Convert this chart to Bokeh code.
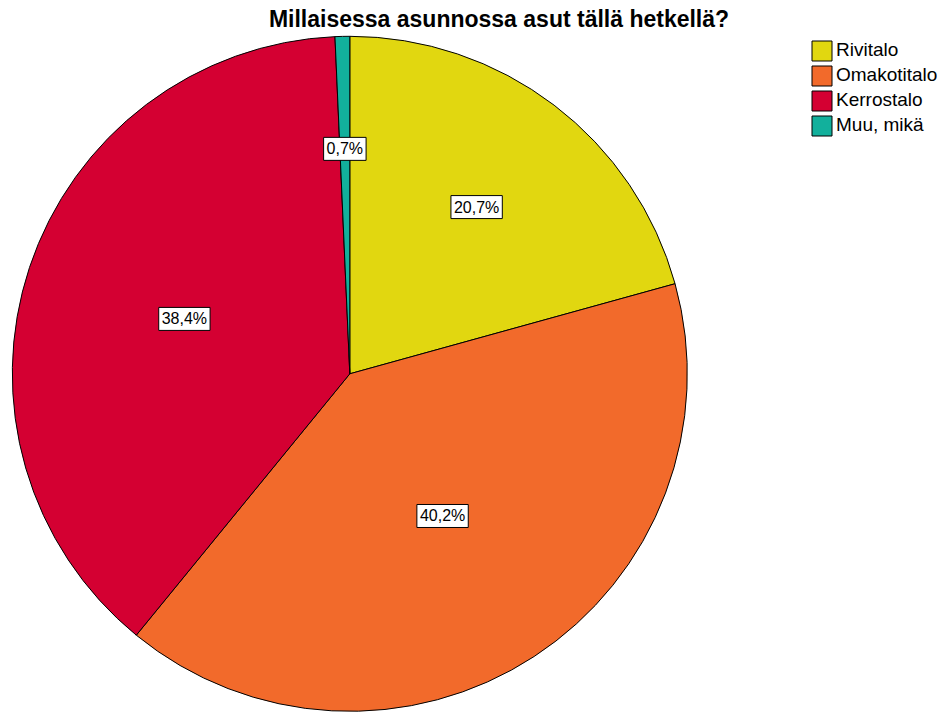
import math
from bokeh.plotting import figure
from bokeh.models import ColumnDataSource, Legend, LegendItem, Label
from bokeh.core.properties import value
from bokeh.embed import file_html
from bokeh.resources import INLINE

title_text = "Millaisessa asunnossa asut tällä hetkellä?"
categories = ["Rivitalo", "Omakotitalo", "Kerrostalo", "Muu, mikä"]
percentages = [20.7, 40.2, 38.4, 0.7]
colors = ["#E1D710", "#F26A2B", "#D40032", "#12B09C"]

W, H = 942, 713
CX, CY = 349.3, H - 373.3
R = 337.5
FONT = "Liberation Sans"

total = sum(percentages)
starts, ends, lx, ly, texts = [], [], [], [], []
cum = 0.0
for v in percentages:
    f = v / total
    a0 = math.pi / 2 - 2 * math.pi * cum
    cum += f
    a1 = math.pi / 2 - 2 * math.pi * cum
    starts.append(a0)
    ends.append(a1)
    mid = (a0 + a1) / 2
    half = math.pi * f
    d = (2.0 / 3.0) * R * math.sin(half) / half
    lx.append(CX + d * math.cos(mid))
    ly.append(CY + d * math.sin(mid))
    texts.append(f"{v:.1f}".replace(".", ",") + "%")

src = ColumnDataSource(dict(
    cat=categories, start=starts, end=ends, color=colors,
    x=[CX] * len(categories), y=[CY] * len(categories),
    lx=lx, ly=ly, txt=texts,
))

p = figure(width=W, height=H, x_range=(0, W), y_range=(0, H),
           x_axis_type=None, y_axis_type=None, min_border=0,
           toolbar_location=None, output_backend="svg",
           outline_line_color=None, background_fill_color="white")
p.grid.visible = False

r = p.wedge(x="x", y="y", radius=R, start_angle="start", end_angle="end",
            direction="clock", fill_color="color", line_color="black",
            line_width=1, source=src)

p.text(x="lx", y="ly", text="txt", source=src, text_align="center",
       text_baseline="middle", text_font=value(FONT), text_font_size="16px",
       text_color="black", background_fill_color="white",
       border_line_color="black", border_line_width=1, padding=3)

items = [LegendItem(label=c, renderers=[r], index=i) for i, c in enumerate(categories)]
legend = Legend(items=items, location=(809, H - 40 - 4 * 25 + 2.5),
                glyph_width=25, glyph_height=25, spacing=0, padding=0, margin=0,
                label_standoff=2, label_text_font=FONT, label_text_font_size="19px",
                label_text_color="black",
                label_height=25, border_line_color=None, background_fill_alpha=0)
p.add_layout(legend, "center")

p.add_layout(Label(x=498.5, y=H - 18, text=title_text, text_align="center",
                   text_baseline="middle", text_font=FONT,
                   text_font_size="23px", text_font_style="bold", text_color="black"))

open("out.html", "w").write(file_html(p, INLINE))
